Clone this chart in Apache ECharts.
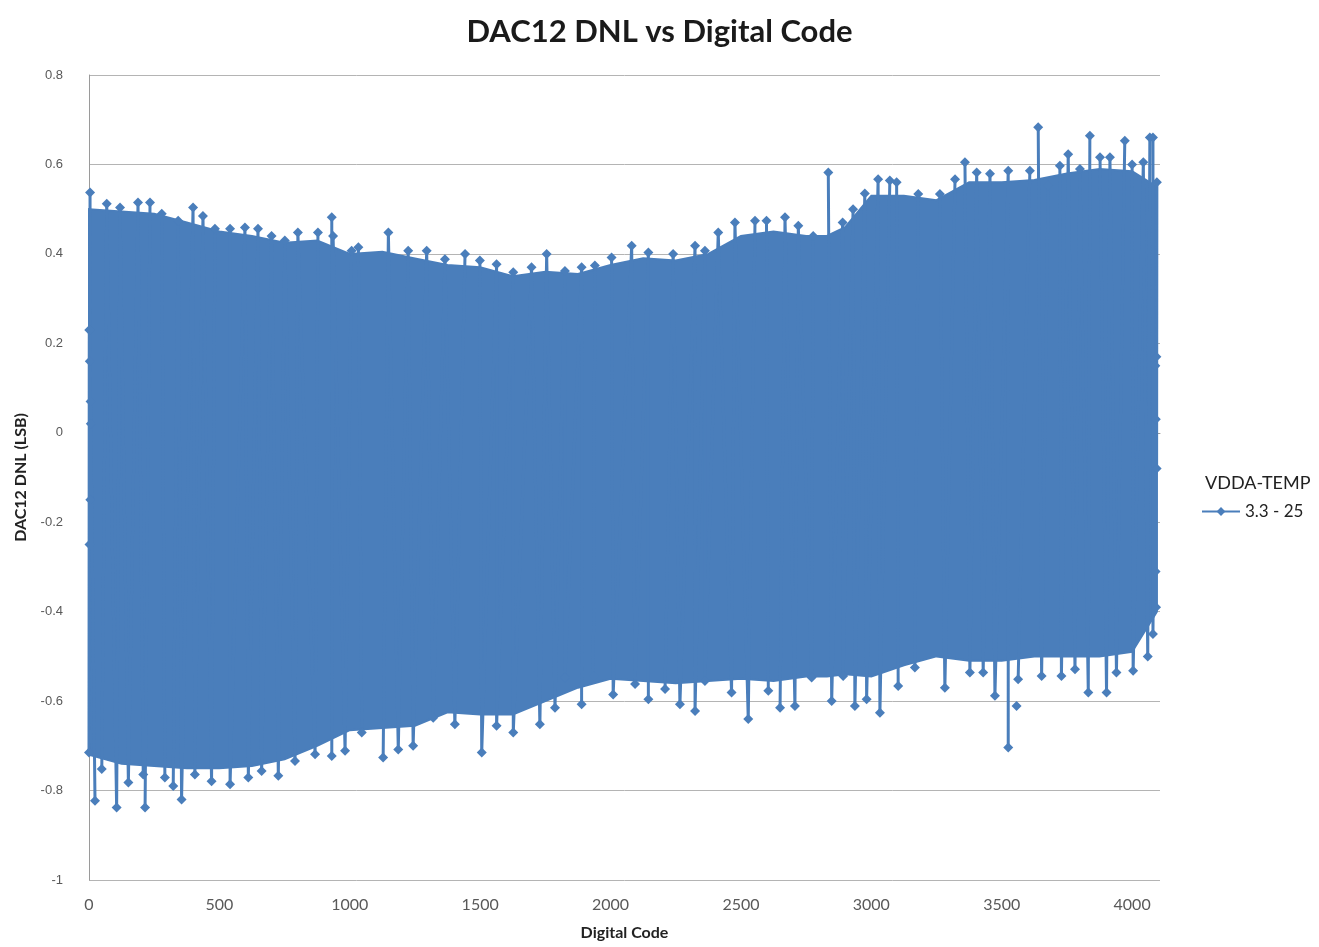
<!DOCTYPE html>
<html>
<head>
<meta charset="utf-8">
<script src="https://cdn.jsdelivr.net/npm/echarts@6/dist/echarts.min.js"></script>
<style>html,body{margin:0;padding:0;background:#fff}#chart{width:1319px;height:947px}</style>
</head>
<body>
<div id="chart"></div>
<script>
// ---- data ----
var xTickLabels = ['0','500','1000','1500','2000','2500','3000','3500','4000'];
var yTickLabels = ['-1','-0.8','-0.6','-0.4','-0.2','0','0.2','0.4','0.6','0.8'];

// solid band edges (top / bottom of the dense trace)
var baseCodes = [0, 125, 250, 375, 500, 625, 750, 875, 1000, 1125, 1250, 1375, 1500, 1625, 1750, 1875, 2000, 2125, 2250, 2375,
  2500, 2625, 2750, 2830, 2900, 3000, 3125, 3250, 3375, 3500, 3625, 3750, 3875, 4000, 4095];
var upperBase = [0.50, 0.495, 0.49, 0.47, 0.45, 0.44, 0.425, 0.43, 0.40, 0.405, 0.39, 0.375, 0.37, 0.35, 0.36, 0.355, 0.375, 0.39, 0.385, 0.40,
  0.44, 0.45, 0.44, 0.44, 0.46, 0.53, 0.53, 0.52, 0.56, 0.56, 0.565, 0.58, 0.59, 0.585, 0.55];
var lowerBase = [-0.72, -0.74, -0.745, -0.75, -0.75, -0.745, -0.73, -0.70, -0.665, -0.66, -0.655, -0.625, -0.63, -0.63, -0.60, -0.57, -0.55, -0.555, -0.56, -0.555,
  -0.55, -0.555, -0.545, -0.545, -0.54, -0.545, -0.52, -0.50, -0.51, -0.51, -0.50, -0.50, -0.50, -0.49, -0.40];

// upper peaks
var topCodes = [4, 68, 119, 188, 234, 279, 342, 399, 437, 483, 541, 598, 648, 700, 751, 801, 878, 931, 936, 1007,
  1033, 1148, 1224, 1295, 1365, 1442, 1499, 1563, 1627, 1697, 1755, 1825, 1889, 1940, 2004,
  2081, 2145, 2240, 2324, 2362, 2413, 2477, 2554, 2598, 2669, 2720, 2777, 2835, 2890, 2930, 2975, 3026, 3071,
  3097, 3180, 3263, 3321, 3359, 3404, 3455, 3525, 3608, 3640, 3678, 3723, 3755, 3800, 3838, 3877, 3915, 3972, 4000, 4043, 4068, 4080, 4095];
var topVals = [0.537, 0.512, 0.504, 0.515, 0.515, 0.49, 0.474, 0.504, 0.485, 0.456, 0.456, 0.459, 0.456, 0.44, 0.43, 0.448, 0.448, 0.482, 0.44, 0.407,
  0.415, 0.448, 0.407, 0.407, 0.388, 0.40, 0.385, 0.377, 0.359, 0.37, 0.40, 0.362, 0.37, 0.374, 0.392,
  0.418, 0.403, 0.40, 0.418, 0.407, 0.448, 0.47, 0.474, 0.474, 0.482, 0.463, 0.44, 0.582, 0.47, 0.50, 0.535, 0.567, 0.564,
  0.56, 0.534, 0.534, 0.567, 0.605, 0.582, 0.579, 0.586, 0.586, 0.683, 0.553, 0.597, 0.623, 0.59, 0.664, 0.616, 0.616, 0.653, 0.60, 0.605, 0.66, 0.66, 0.56];

// lower peaks
var botCodes = [0, 23, 49, 106, 151, 208, 215, 291, 323, 355, 406, 470, 541, 611, 662, 726, 790, 867, 931, 982,
  1046, 1128, 1186, 1243, 1320, 1403, 1506, 1563, 1627, 1729, 1787, 1825, 1889, 1934, 2010,
  2094, 2145, 2209, 2266, 2324, 2362, 2464, 2528, 2605, 2650, 2707, 2771, 2848, 2892, 2937, 2982, 3033,
  3103, 3167, 3282, 3378, 3429, 3474, 3525, 3557, 3563, 3653, 3729, 3781, 3832, 3902, 3940, 4004, 4060, 4080];
var botVals = [-0.715, -0.823, -0.752, -0.838, -0.782, -0.764, -0.838, -0.771, -0.79, -0.82, -0.764, -0.779, -0.786, -0.771, -0.756, -0.767, -0.734, -0.719, -0.723, -0.711,
  -0.67, -0.726, -0.708, -0.70, -0.637, -0.652, -0.715, -0.655, -0.67, -0.652, -0.615, -0.547, -0.607, -0.544, -0.585,
  -0.562, -0.596, -0.573, -0.607, -0.622, -0.555, -0.581, -0.64, -0.577, -0.615, -0.611, -0.547, -0.60, -0.544, -0.611, -0.596, -0.626,
  -0.566, -0.525, -0.57, -0.536, -0.536, -0.588, -0.704, -0.611, -0.551, -0.544, -0.544, -0.529, -0.581, -0.581, -0.536, -0.532, -0.50, -0.45];

// first and last few codes (markers seen along the left and right edges)
var firstCodes = [1, 2, 3, 5, 6, 7];
var firstVals  = [0.23, -0.25, 0.16, -0.15, 0.07, 0.02];
var lastCodes  = [4089, 4090, 4091, 4092, 4093, 4094];
var lastVals   = [0.15, -0.31, 0.03, -0.39, 0.17, -0.08];

var seriesName = '3.3 - 25';
var legendTitle = 'VDDA-TEMP';

// ---- build series ----
var bandData = baseCodes.map(function (c, i) { return [c, lowerBase[i], upperBase[i]]; });

var pts = [];
topCodes.forEach(function (c, i) { pts.push({c: c, v: topVals[i], s: 1}); });
botCodes.forEach(function (c, i) { pts.push({c: c, v: botVals[i], s: -1}); });
firstCodes.forEach(function (c, i) { pts.push({c: c, v: firstVals[i], s: 0}); });
lastCodes.forEach(function (c, i) { pts.push({c: c, v: lastVals[i], s: 0}); });
pts.sort(function (a, b) { return a.c - b.c; });
var trace = [];
var prevSide = null;
pts.forEach(function (p) {
  if (prevSide !== null && p.s !== 0 && p.s === prevSide) trace.push([p.c, '-']);
  trace.push([p.c, p.v]);
  if (p.s !== 0) prevSide = p.s;
});

var blue = '#4A7EBB';
var chart = echarts.init(document.getElementById('chart'), null, {renderer: 'canvas'});
chart.setOption({
  animation: false,
  backgroundColor: '#ffffff',
  title: [{
    text: 'DAC12 DNL vs Digital Code',
    left: 'center', top: 11,
    textStyle: {fontFamily: 'Lato', fontWeight: 'bold', fontSize: 31, color: '#1a1a1a'}
  }, {
    text: legendTitle,
    left: 1200, top: 469,
    textStyle: {fontFamily: 'Lato', fontWeight: 'normal', fontSize: 18, color: '#222'}
  }],
  legend: {
    data: [seriesName],
    left: 1201, top: 503,
    itemWidth: 38, itemHeight: 11, padding: 0, itemGap: 4,
    textStyle: {fontFamily: 'Lato', fontSize: 17, color: '#222'}
  },
  grid: {left: 89, right: 159, top: 75, bottom: 67, containLabel: false},
  xAxis: {
    type: 'value', min: 0, max: 4107, interval: 500,
    name: 'Digital Code', nameLocation: 'middle', nameGap: 45,
    nameTextStyle: {fontFamily: 'Lato', fontWeight: 'bold', fontSize: 16, color: '#222'},
    axisLine: {show: true, lineStyle: {color: '#9a9a9a', width: 1}},
    axisTick: {show: false},
    splitLine: {show: false},
    axisLabel: {
      margin: 17, showMaxLabel: false, fontFamily: 'Lato', fontSize: 16, color: '#595959',
      formatter: function (v) { var s = String(Math.round(v)); return xTickLabels.indexOf(s) >= 0 ? s : ''; }
    }
  },
  yAxis: {
    type: 'value', min: -1, max: 0.8, interval: 0.2,
    name: 'DAC12 DNL (LSB)', nameLocation: 'middle', nameGap: 60, nameRotate: 90,
    nameTextStyle: {fontFamily: 'Lato', fontWeight: 'bold', fontSize: 16, color: '#222'},
    axisLine: {show: true, lineStyle: {color: '#9a9a9a', width: 1}},
    axisTick: {show: false},
    splitLine: {show: true, lineStyle: {color: '#b4b4b4', width: 1}},
    axisLabel: {
      margin: 26, fontFamily: 'Liberation Sans', fontSize: 13, color: '#595959',
      formatter: function (v) {
        var s = String(Math.round(v * 10) / 10);
        return yTickLabels.indexOf(s) >= 0 ? s : '';
      }
    }
  },
  series: [{
    name: 'band', type: 'custom', data: bandData, silent: true, z: 1,
    encode: {x: 0, y: [1, 2]},
    renderItem: function (params, api) {
      if (params.dataIndex !== 0) return null;
      var upper = [], lower = [];
      for (var i = 0; i < bandData.length; i++) {
        upper.push(api.coord([bandData[i][0], bandData[i][2]]));
        lower.push(api.coord([bandData[i][0], bandData[i][1]]));
      }
      return {
        type: 'polygon',
        shape: {points: upper.concat(lower.reverse())},
        style: {fill: blue, stroke: blue, lineWidth: 2}
      };
    }
  }, {
    name: seriesName, type: 'line', data: trace,
    symbol: 'diamond', symbolSize: 10, showSymbol: true, showAllSymbol: true,
    connectNulls: false, clip: false,
    itemStyle: {color: blue},
    lineStyle: {color: blue, width: 3}, z: 3
  }]
});
</script>
</body>
</html>
